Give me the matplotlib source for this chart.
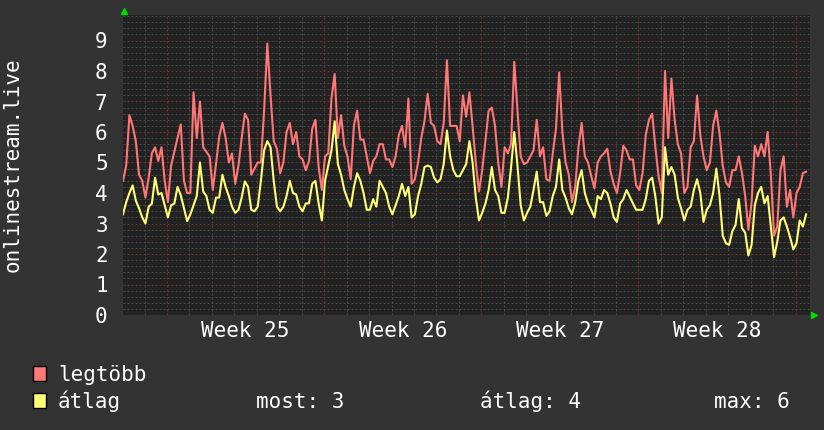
import numpy as np
import matplotlib.pyplot as plt
from matplotlib.patches import Rectangle
from matplotlib.lines import Line2D

# viewers, one sample every 1/7 day (peak and average)
legtobb = [4.4, 4.9, 6.55, 6.2, 5.7, 4.6, 4.4, 3.85, 4.5, 5.3,
           5.5, 5.05, 5.5, 4.4, 3.7, 4.9, 5.35, 5.8, 6.25, 4.4,
           4.0, 4.0, 7.3, 5.8, 7.0, 5.5, 5.35, 5.2, 4.1, 4.95,
           5.85, 6.3, 5.8, 5.0, 5.3, 4.3, 4.9, 5.8, 6.6, 6.4,
           4.6, 4.8, 5.0, 5.0, 6.7, 8.9, 7.2, 5.7, 5.45, 4.65,
           5.0, 6.0, 6.3, 5.6, 6.0, 5.2, 5.1, 4.75, 5.05, 6.1,
           6.4, 4.85, 4.1, 5.2, 5.3, 7.1, 7.9, 5.8, 6.55, 5.55,
           5.2, 4.45, 6.2, 6.7, 5.75, 5.75, 5.2, 4.65, 5.05, 5.2,
           5.6, 5.6, 5.1, 5.1, 4.85, 5.2, 5.9, 6.2, 5.5, 7.1,
           4.3, 4.45, 5.0, 5.8, 6.35, 7.25, 6.3, 6.2, 5.7, 5.6,
           6.3, 8.35, 6.2, 6.2, 6.2, 5.7, 7.2, 6.5, 7.3, 6.2,
           5.0, 4.05, 4.75, 5.7, 6.7, 6.8, 6.2, 5.0, 4.2, 5.5,
           5.3, 5.6, 8.3, 6.7, 5.2, 4.95, 5.0, 5.2, 5.4, 6.4,
           5.2, 5.5, 4.45, 4.4, 5.3, 6.1, 7.95, 6.0, 5.0, 4.6,
           3.7, 4.2, 5.5, 6.3, 5.2, 5.0, 4.55, 4.15, 5.0, 5.2,
           5.3, 5.45, 4.7, 4.3, 4.0, 4.65, 5.55, 5.4, 5.1, 5.1,
           4.25, 4.1, 4.65, 5.9, 6.4, 6.6, 5.5, 4.55, 4.0, 8.0,
           5.8, 7.75, 6.4, 5.6, 5.3, 4.0, 4.2, 5.5, 5.7, 7.2,
           5.9, 5.2, 4.75, 5.0, 6.2, 6.7, 5.95, 4.9, 4.35, 4.2,
           4.75, 4.75, 5.2, 4.65, 3.9, 2.8, 3.7, 5.55, 5.2, 5.6,
           5.2, 6.0, 4.6, 2.6, 2.9, 4.75, 5.2, 3.55, 4.1, 3.2,
           4.0, 4.2, 4.65, 4.7]
atlag = [3.3, 3.7, 4.0, 4.25, 3.75, 3.5, 3.2, 3.0, 3.55, 3.65,
         4.5, 3.95, 4.0, 3.6, 3.2, 3.6, 3.65, 4.2, 3.93, 3.5,
         3.08, 3.3, 3.6, 3.9, 5.0, 4.05, 3.9, 3.45, 3.35, 3.85,
         3.85, 4.6, 4.2, 3.9, 3.55, 3.35, 3.45, 3.85, 4.38, 4.2,
         3.45, 3.4, 3.55, 4.4, 5.4, 5.7, 5.5, 4.4, 3.55, 3.4,
         3.55, 3.9, 4.4, 4.0, 3.95, 3.55, 3.4, 3.66, 3.66, 4.3,
         4.4, 3.66, 3.1, 4.4, 4.9, 5.4, 6.35, 4.95, 4.6, 4.1,
         3.8, 3.55, 4.2, 4.65, 4.4, 4.0, 3.45, 3.45, 3.8, 3.55,
         4.4, 4.2, 4.0, 3.55, 3.3, 3.6, 3.9, 4.3, 3.9, 4.2,
         3.2, 3.3, 3.9, 4.3, 4.85, 4.9, 4.85, 4.5, 4.35, 4.45,
         4.95, 6.05, 5.2, 4.75, 4.55, 4.55, 4.75, 4.95, 5.7, 5.0,
         3.85, 3.1, 3.35, 3.65, 4.1, 4.85, 4.1, 3.9, 3.35, 3.35,
         3.85, 4.85, 6.0, 4.9, 3.6, 3.1, 3.35, 3.55, 4.1, 4.7,
         3.7, 3.7, 3.25, 3.4, 3.9, 4.2, 5.1, 4.1, 3.85, 3.5,
         3.3, 3.7, 4.4, 4.75, 4.0, 3.66, 3.45, 3.2, 3.9, 3.8,
         4.1, 4.0, 3.65, 3.2, 3.05, 3.65, 3.8, 4.1, 3.88, 3.66,
         3.45, 3.45, 3.45, 3.8, 4.4, 4.5, 3.88, 3.0, 3.2, 5.5,
         4.6, 4.85, 4.6, 3.85, 3.5, 3.1, 3.45, 3.55, 4.1, 4.45,
         4.0, 3.05, 3.45, 3.6, 4.0, 4.8, 3.9, 2.6, 2.35, 2.3,
         2.75, 2.95, 3.8, 2.85, 2.7, 1.95, 2.3, 3.6, 4.0, 4.2,
         3.66, 3.9, 2.9, 1.9, 2.4, 3.1, 3.2, 2.9, 2.55, 2.15,
         2.35, 3.1, 2.9, 3.3]
weeks = ['Week 25', 'Week 26', 'Week 27', 'Week 28']
ylabel = 'onlinestream.live'

W, H = 824, 430
BG = '#333333'
PLOT_BG = '#222222'
RED = '#ff7777'
YEL = '#ffff77'
FONT = 'DejaVu Sans Mono'
FS = 15

step = 1 / 7.0       # days per sample
start = -1.96        # first sample, in days before the week 25 boundary
t = start + np.arange(len(legtobb)) * step

fig = plt.figure(figsize=(W / 100, H / 100), dpi=100, facecolor=BG)
ax = fig.add_axes([123 / W, 1 - 315 / H, 687 / W, 300 / H])
ax.set_facecolor(PLOT_BG)
xmin, xmax = start, start + 687 / 22.45
ymax = 300 / 30.5
ax.set_xlim(xmin, xmax)
ax.set_ylim(0, ymax)

# dotted grid: minor grey, major red
dots = (0, (2, 2))
for y in np.arange(0.2, ymax, 0.2):
    major = abs(y - round(y)) < 1e-6
    ax.axhline(y, color='#6e3030' if major else '#4a4a4a', lw=0.72, ls=dots, zorder=1)
for d in range(int(np.ceil(xmin)), int(xmax) + 1):
    ax.axvline(d, color='#6e3030' if d % 7 == 0 else '#4a4a4a', lw=0.72, ls=dots, zorder=1)

ax.plot(t, legtobb, color=RED, lw=1.5, zorder=3)
ax.plot(t, atlag, color=YEL, lw=1.5, zorder=4)

for s in ax.spines.values():
    s.set_visible(False)
ax.set_yticks(range(10))
ax.set_yticklabels([str(i) for i in range(10)], fontsize=FS, family=FONT, color='white')
ax.set_xticks([3.5 + 7 * k for k in range(len(weeks))])
ax.set_xticklabels(weeks, fontsize=FS, family=FONT, color='white')
ax.tick_params(axis='y', length=0, pad=11)
ax.tick_params(axis='x', length=0, pad=4)

fig.text(13 / W, 1 - 165 / H, ylabel, rotation=90, ha='center', va='center',
         fontsize=FS, family=FONT, color='white')

# green arrows on the axes ends
fig.add_artist(Line2D([124.5 / W], [1 - 11 / H], marker='^', color='#00dd00',
                      markersize=5, transform=fig.transFigure))
fig.add_artist(Line2D([814 / W], [1 - 315 / H], marker='>', color='#00dd00',
                      markersize=5, transform=fig.transFigure))

# legend
for (name, col, ytop) in [('legtöbb', RED, 366), ('átlag', YEL, 393)]:
    fig.add_artist(Rectangle((33 / W, 1 - (ytop + 15) / H), 13 / W, 15 / H,
                             facecolor=col, edgecolor='black', lw=1,
                             transform=fig.transFigure))
    fig.text(58 / W, 1 - (ytop + 15) / H, name, ha='left', va='baseline',
             fontsize=FS, family=FONT, color='white')

most = atlag[-1]
avg = np.mean(atlag)
mx = max(atlag)
base = 1 - 408 / H
fig.text(256 / W, base, f'most: {most:.0f}', fontsize=FS, family=FONT, color='white', va='baseline')
fig.text(480 / W, base, f'átlag: {avg:.0f}', fontsize=FS, family=FONT, color='white', va='baseline')
fig.text(714 / W, base, f'max: {mx:.0f}', fontsize=FS, family=FONT, color='white', va='baseline')

fig.savefig('out.png', dpi=100, facecolor=BG)
